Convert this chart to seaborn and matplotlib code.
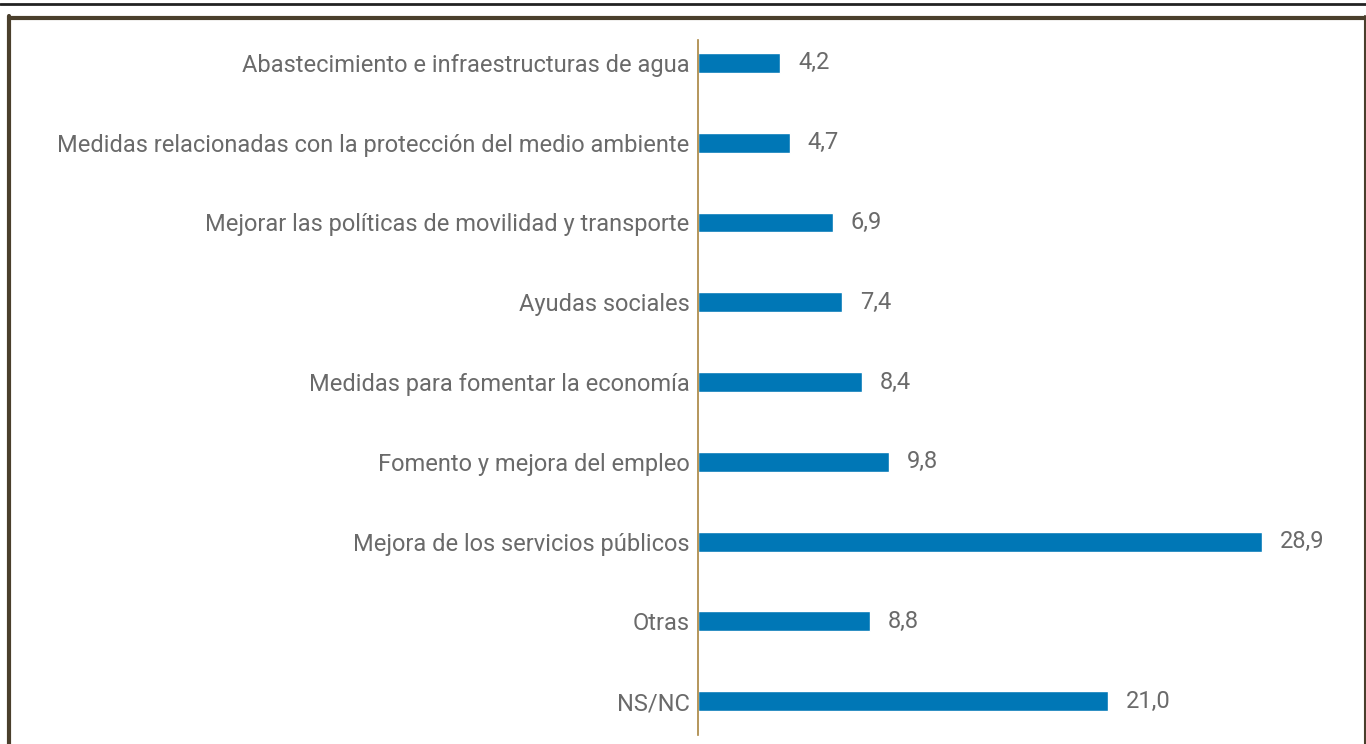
import pandas as pd
import matplotlib
matplotlib.use("Agg")
import matplotlib.pyplot as plt
from matplotlib.lines import Line2D
import seaborn as sns

categorias = [
    "Abastecimiento e infraestructuras de agua",
    "Medidas relacionadas con la protección del medio ambiente",
    "Mejorar las políticas de movilidad y transporte",
    "Ayudas sociales",
    "Medidas para fomentar la economía",
    "Fomento y mejora del empleo",
    "Mejora de los servicios públicos",
    "Otras",
    "NS/NC",
]
valores = [4.2, 4.7, 6.9, 7.4, 8.4, 9.8, 28.9, 8.8, 21.0]
etiquetas = [f"{v:.1f}".replace(".", ",") for v in valores]

df = pd.DataFrame({"categoria": categorias, "valor": valores})

sns.set_theme(style="white")
plt.rcParams["font.family"] = ["Roboto", "DejaVu Sans"]

W, H = 1366, 744
fig = plt.figure(figsize=(W / 100, H / 100), dpi=100)

# axes placed so the vertical axis sits at x=698px, rows 80px apart
ax_left, ax_top, ax_bottom = 698 / W, 1 - 40 / H, 1 - 735 / H
ax = fig.add_axes([ax_left, ax_bottom, 644 / W, ax_top - ax_bottom])

sns.barplot(data=df, x="valor", y="categoria", orient="h", color="#0077b6",
            width=0.25, saturation=1, ax=ax)

ax.set_xlim(0, 33)
ax.set_ylim(8.425, -0.2875)
ax.bar_label(ax.containers[0], labels=etiquetas, padding=13,
             fontsize=17, color="#6a6a6a")

ax.set_xlabel("")
ax.set_ylabel("")
ax.set_xticks([])
ax.tick_params(axis="y", length=0, pad=6, labelsize=17, labelcolor="#6a6a6a")
for s in ["top", "right", "bottom"]:
    ax.spines[s].set_visible(False)
ax.spines["left"].set_color("#a8843f")
ax.spines["left"].set_linewidth(1.2)

# decorative top rule and frame
fig.add_artist(Line2D([0, 1], [1 - 4 / H, 1 - 4 / H], color="#222222", lw=2,
                      transform=fig.transFigure))
frame = "#4a3f2c"
fig.add_artist(Line2D([8.5 / W, 1364.5 / W], [1 - 17.5 / H, 1 - 17.5 / H],
                      color=frame, lw=3, transform=fig.transFigure))
fig.add_artist(Line2D([9 / W, 9 / W], [0, 1 - 16 / H], color=frame, lw=3,
                      transform=fig.transFigure))
fig.add_artist(Line2D([1364.5 / W, 1364.5 / W], [0, 1 - 16 / H], color=frame,
                      lw=1.5, transform=fig.transFigure))

fig.savefig("out.png", dpi=100, facecolor="white")
